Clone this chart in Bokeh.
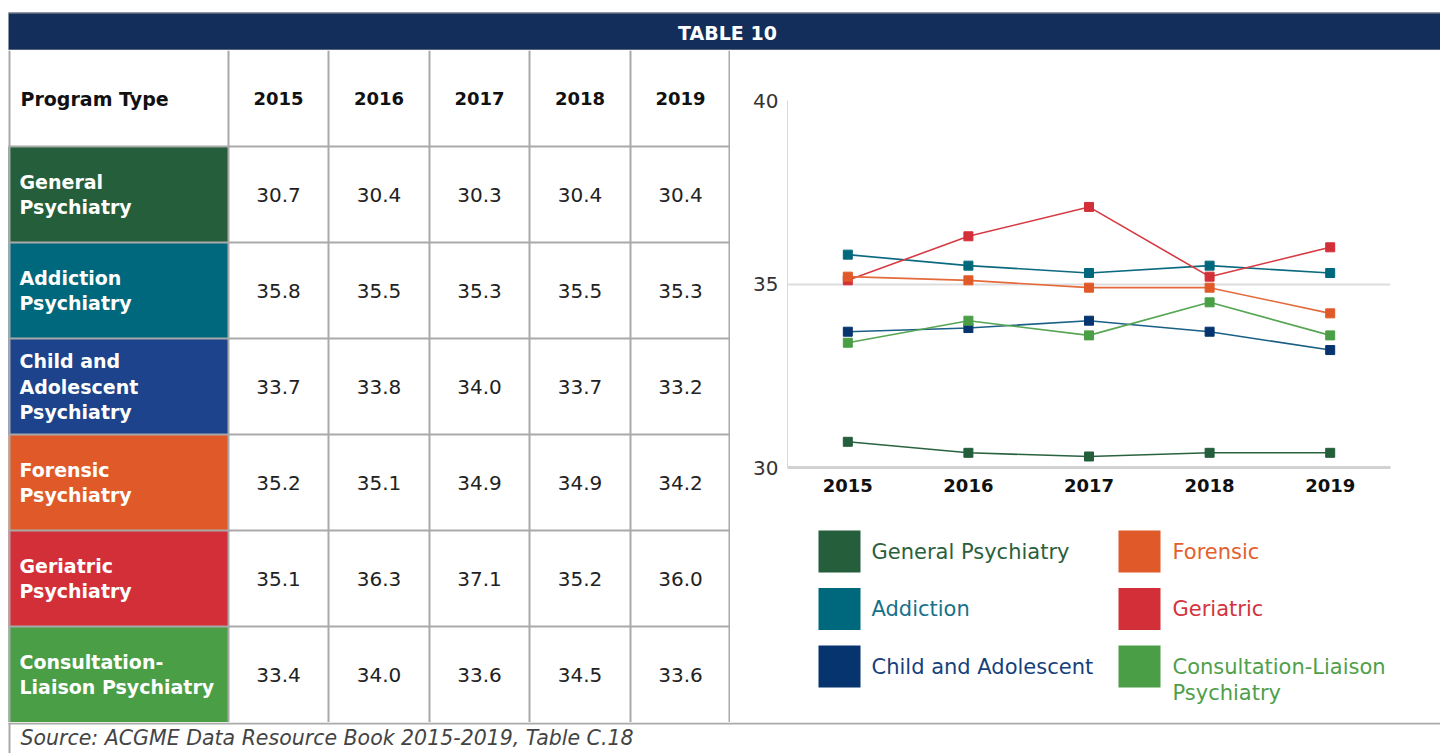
from bokeh.plotting import figure
from bokeh.layouts import column, row
from bokeh.models import Range1d, FactorRange, FixedTicker
from bokeh.embed import file_html
from bokeh.resources import INLINE
from bokeh.core.properties import value

# ---------------- data ----------------
title = "TABLE 10"
header_label = "Program Type"
source_note = "Source: ACGME Data Resource Book 2015-2019, Table C.18"
years = ["2015", "2016", "2017", "2018", "2019"]
program_labels = ["General\nPsychiatry", "Addiction\nPsychiatry", "Child and\nAdolescent\nPsychiatry",
                  "Forensic\nPsychiatry", "Geriatric\nPsychiatry", "Consultation-\nLiaison Psychiatry"]
legend_labels = ["General Psychiatry", "Addiction", "Child and Adolescent",
                 "Forensic", "Geriatric", "Consultation-Liaison\nPsychiatry"]
general = [30.7, 30.4, 30.3, 30.4, 30.4]
addiction = [35.8, 35.5, 35.3, 35.5, 35.3]
child = [33.7, 33.8, 34.0, 33.7, 33.2]
forensic = [35.2, 35.1, 34.9, 34.9, 34.2]
geriatric = [35.1, 36.3, 37.1, 35.2, 36.0]
consult = [33.4, 34.0, 33.6, 34.5, 33.6]
series = [general, addiction, child, forensic, geriatric, consult]
y_ticks = [30, 35, 40]

# ---------------- styles ----------------
FONT = "DejaVu Sans"
NAVY = "#132e5a"
GRID = "#a9a9a9"
cell_colors = ["#245e3a", "#00687c", "#1c438b", "#e05a29", "#d32f38", "#4a9e46"]
marker_colors = ["#245e3a", "#00687c", "#05346f", "#e05a29", "#d32f38", "#4a9e46"]
line_colors = ["#2a6340", "#0b6a80", "#1a5f86", "#e46a3c", "#d63a42", "#56a552"]
text_colors = ["#2b5f3c", "#17718a", "#173f7c", "#e3602d", "#d3343c", "#4fa04a"]
draw_order = [0, 2, 5, 1, 4, 3]


def blank(w, h, x0=0, x1=None, **kw):
    p = figure(width=w, height=h, x_range=Range1d(x0, w if x1 is None else x1), y_range=Range1d(h, 0),
               output_backend="svg", toolbar_location=None,
               x_axis_location=None, y_axis_location=None, **kw)
    p.grid.visible = False
    p.outline_line_color = None
    p.background_fill_color = "white"
    p.border_fill_color = "white"
    return p


W, H = 1440, 753
L = 8  # left edge of the table frame

# ---------------- header bar ----------------
head = blank(W, 50, min_border=0)
head.quad(left=L, right=W, top=12, bottom=50, fill_color=NAVY, line_color=None)
head.segment(L, 12.5, W, 12.5, line_color="#9a9a9a", line_width=1)
head.segment(L, 49.5, W, 49.5, line_color="#9a9a9a", line_width=1)
head.text(x=[727], y=[32], text=[title], text_color="white", text_font=value(FONT),
          text_font_style="bold", text_font_size="19px", text_align="center", text_baseline="middle")

# ---------------- table ----------------
TW, TH = 730, 672
RH = 96
col_edges = [L, 228, 328, 429, 529, 630, 730]
tab = blank(TW, TH, min_border=0)
n = len(program_labels)
tab.quad(left=[L] * n, right=[col_edges[1]] * n,
         top=[RH * (i + 1) for i in range(n)], bottom=[RH * (i + 2) for i in range(n)],
         fill_color=cell_colors, line_color=None)
hy = [RH * k for k in range(1, n + 1)]
tab.segment(x0=[L] * n, y0=hy, x1=[TW] * n, y1=hy, line_color=GRID, line_width=2)
vx = [L + 1] + col_edges[1:-1] + [TW - 1]
tab.segment(x0=vx, y0=[0] * len(vx), x1=vx, y1=[TH] * len(vx), line_color=GRID, line_width=2)

centers = [(col_edges[j] + col_edges[j + 1]) / 2 for j in range(1, 6)]
tab.text(x=[20], y=[48], text=[header_label], text_color="#111", text_font=value(FONT),
         text_font_style="bold", text_font_size="19px", text_align="left", text_baseline="middle")
tab.text(x=centers, y=[48] * 5, text=years, text_color="#111", text_font=value(FONT),
         text_font_style="bold", text_font_size="18px", text_align="center", text_baseline="middle")
lx, ly, lt = [], [], []
vxs, vys, vts = [], [], []
for i, lab in enumerate(program_labels):
    lines = lab.split("\n")
    cy = RH * (i + 1) + RH / 2
    for j, ln in enumerate(lines):
        lx.append(19); ly.append(cy + (j - (len(lines) - 1) / 2) * 25.5); lt.append(ln)
    for j, v in enumerate(series[i]):
        vxs.append(centers[j]); vys.append(cy); vts.append(f"{v:.1f}")
tab.text(x=lx, y=ly, text=lt, text_color="white", text_font=value(FONT),
         text_font_style="bold", text_font_size="19px", text_align="left", text_baseline="middle")
tab.text(x=vxs, y=vys, text=vts, text_color="#222", text_font=value(FONT),
         text_font_size="20px", text_align="center", text_baseline="middle")

# ---------------- chart ----------------
CW = W - TW
BL, BR = 57, 50
ch = figure(width=CW, height=460, x_range=FactorRange(*years, range_padding=0),
            y_range=Range1d(30, 40), output_backend="svg", toolbar_location=None,
            min_border_left=BL, min_border_right=BR, min_border_top=50, min_border_bottom=43)
ch.outline_line_color = None
ch.xgrid.visible = False
ch.ygrid.ticker = FixedTicker(ticks=y_ticks)
ch.ygrid.grid_line_color = "#dddddd"
ch.ygrid.grid_line_width = 2
ch.yaxis.ticker = FixedTicker(ticks=y_ticks)
ch.yaxis.major_tick_line_color = None
ch.yaxis.minor_tick_line_color = None
ch.yaxis.axis_line_color = "#d9d9d9"
ch.yaxis.axis_line_width = 1
ch.yaxis.major_label_standoff = 3
ch.yaxis.major_label_text_font = FONT
ch.yaxis.major_label_text_font_size = "20px"
ch.yaxis.major_label_text_color = "#333"
ch.xaxis.major_tick_line_color = None
ch.xaxis.minor_tick_line_color = None
ch.xaxis.axis_line_color = "#d2d2d2"
ch.xaxis.axis_line_width = 3
ch.xaxis.major_label_standoff = 5
ch.xaxis.major_label_text_font = FONT
ch.xaxis.major_label_text_font_size = "18px"
ch.xaxis.major_label_text_font_style = "bold"
ch.xaxis.major_label_text_color = "#111"
for i in draw_order:
    ch.line(years, series[i], line_color=line_colors[i], line_width=1.6)
    ch.scatter(years, series[i], marker="square", size=9, fill_color=marker_colors[i], line_color=marker_colors[i])

# ---------------- legend ----------------
leg = blank(CW, 212, x0=BL, x1=CW - BR, min_border_left=BL, min_border_right=BR,
            min_border_top=0, min_border_bottom=0)
sq_x = [88, 388]
txt_x = [141, 442]
l, r, t, b, c = [], [], [], [], []
tx, ty, tt, tc = [], [], [], []
for i, lab in enumerate(legend_labels):
    col, rw = i // 3, i % 3
    top = 20 + 57.5 * rw
    l.append(sq_x[col]); r.append(sq_x[col] + 42); t.append(top); b.append(top + 42)
    c.append(marker_colors[i])
    for j, ln in enumerate(lab.split("\n")):
        tx.append(txt_x[col]); ty.append(top + 21 + 26 * j); tt.append(ln); tc.append(text_colors[i])
leg.quad(left=l, right=r, top=t, bottom=b, fill_color=c, line_color=None)
leg.text(x=tx, y=ty, text=tt, text_color=tc, text_font=value(FONT), text_font_size="21px",
         text_align="left", text_baseline="middle")

# ---------------- source ----------------
src = blank(W, H - 50 - TH, min_border=0)
src.segment(L, 1, W, 1, line_color=GRID, line_width=2)
src.segment(L + 1, 0, L + 1, 40, line_color=GRID, line_width=2)
src.text(x=[20], y=[15], text=[source_note], text_color="#444", text_font=value(FONT),
         text_font_style="italic", text_font_size="20.5px", text_align="left", text_baseline="middle")

layout = column(head, row(tab, column(ch, leg, spacing=0), spacing=0), src, spacing=0)
open("out.html", "w").write(file_html(layout, INLINE))
